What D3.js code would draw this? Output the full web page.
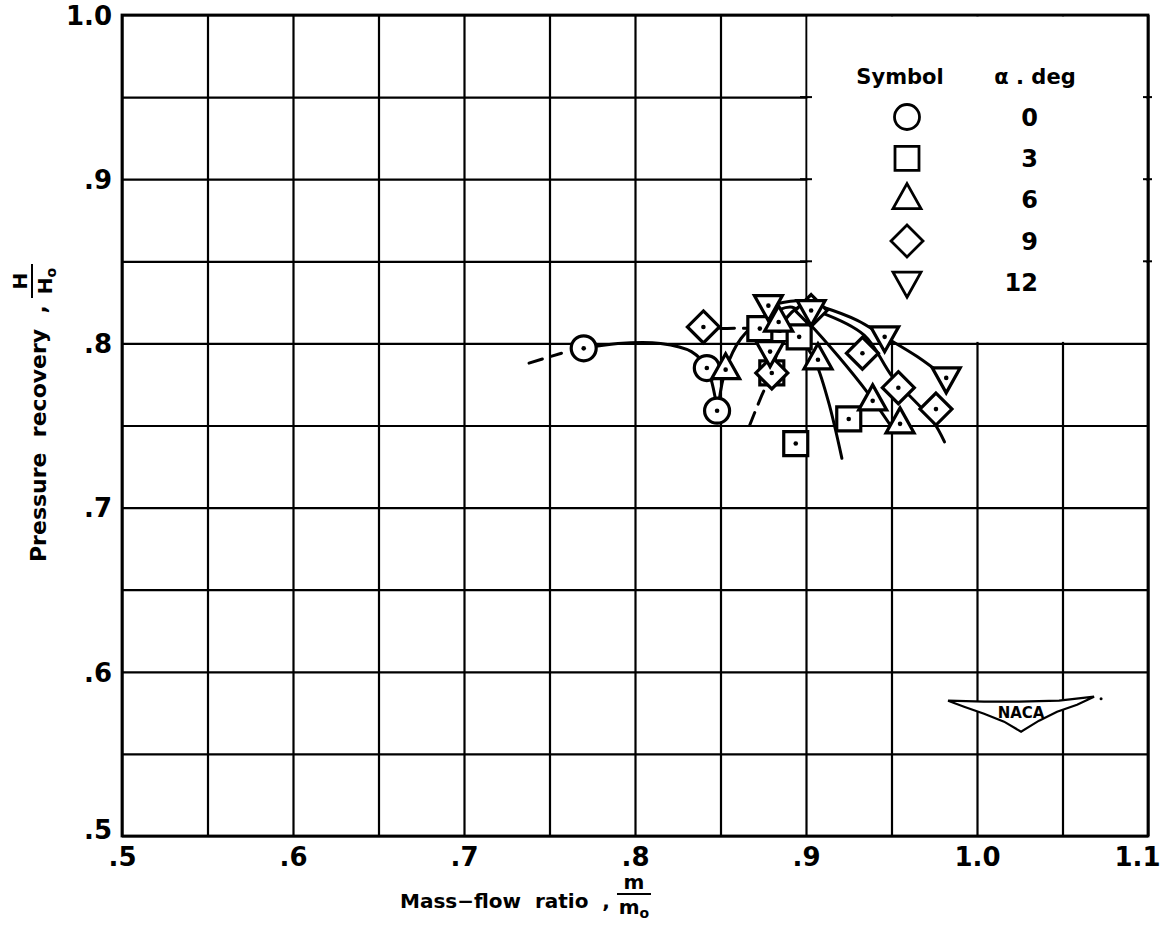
<!DOCTYPE html>
<html>
<head>
<meta charset="utf-8">
<script src="https://cdn.jsdelivr.net/npm/d3@7"></script>
<style>
  body { margin: 0; background: #fff; }
  svg { display: block; }
  text { font-family: "DejaVu Sans", sans-serif; font-weight: bold; fill: #000; }
</style>
</head>
<body>
<svg id="chart" width="1168" height="951"></svg>
<script>
// ---- axis ticks ----
const xTicks = [0.5, 0.6, 0.7, 0.8, 0.9, 1.0, 1.1];
const xTickLabels = [".5", ".6", ".7", ".8", ".9", "1.0", "1.1"];
const yTicks = [0.5, 0.6, 0.7, 0.8, 0.9, 1.0];
const yTickLabels = [".5", ".6", ".7", ".8", ".9", "1.0"];
const xGrid = [0.5, 0.55, 0.6, 0.65, 0.7, 0.75, 0.8, 0.85, 0.9, 0.95, 1.0, 1.05, 1.1];
const yGrid = [0.5, 0.55, 0.6, 0.65, 0.7, 0.75, 0.8, 0.85, 0.9, 0.95, 1.0];

// ---- angle of attack, deg, and test points (mass-flow ratio, pressure recovery) ----
const alphaDeg = [0, 3, 6, 9, 12];
const alpha0Flow = [0.770, 0.842, 0.848];
const alpha0Rec  = [0.797, 0.785, 0.759];
const alpha3Flow = [0.873, 0.896, 0.925, 0.894, 0.880];
const alpha3Rec  = [0.809, 0.804, 0.754, 0.739, 0.782];
const alpha6Flow = [0.853, 0.884, 0.907, 0.939, 0.955];
const alpha6Rec  = [0.784, 0.813, 0.790, 0.765, 0.751];
const alpha9Flow = [0.840, 0.880, 0.903, 0.933, 0.954, 0.976];
const alpha9Rec  = [0.810, 0.782, 0.820, 0.794, 0.773, 0.760];
const alpha12Flow = [0.878, 0.903, 0.946, 0.982, 0.879];
const alpha12Rec  = [0.823, 0.820, 0.804, 0.779, 0.795];

// ---- faired curves [mass-flow ratio, pressure recovery] ----
const fair0 = [[0.770, 0.797], [0.790, 0.800], [0.815, 0.800], [0.833, 0.795], [0.842, 0.785], [0.848, 0.760]];
const fair0Lead = [[0.738, 0.788], [0.757, 0.794]];
const fair3 = [[0.896, 0.804], [0.905, 0.790], [0.913, 0.765], [0.921, 0.730]];
const fair3Lead = [[0.850, 0.809], [0.873, 0.809], [0.896, 0.805]];
const fair6 = [[0.849, 0.764], [0.853, 0.784], [0.862, 0.803], [0.876, 0.816], [0.892, 0.822],
               [0.902, 0.812], [0.919, 0.792], [0.936, 0.770], [0.952, 0.746]];
const fair9 = [[0.886, 0.812], [0.896, 0.822], [0.908, 0.819], [0.934, 0.805], [0.951, 0.779],
               [0.974, 0.753], [0.981, 0.740]];
const fair9Lead = [[0.867, 0.750], [0.874, 0.768], [0.880, 0.782], [0.884, 0.800]];
const fair12 = [[0.875, 0.822], [0.895, 0.826], [0.910, 0.822], [0.930, 0.814], [0.946, 0.804],
                [0.965, 0.792], [0.982, 0.779]];

const series = [
  { alpha: alphaDeg[0], shape: "circle",   flow: alpha0Flow,  rec: alpha0Rec },
  { alpha: alphaDeg[1], shape: "square",   flow: alpha3Flow,  rec: alpha3Rec },
  { alpha: alphaDeg[2], shape: "triUp",    flow: alpha6Flow,  rec: alpha6Rec },
  { alpha: alphaDeg[3], shape: "diamond",  flow: alpha9Flow,  rec: alpha9Rec },
  { alpha: alphaDeg[4], shape: "triDown",  flow: alpha12Flow, rec: alpha12Rec }
];

const svg = d3.select("#chart");
const x = d3.scaleLinear().domain([0.5, 1.1]).range([122, 1148]);
const y = d3.scaleLinear().domain([0.5, 1.0]).range([836, 15]);
const plotH = y(0.5) - y(1.0);
const plotW = x(1.1) - x(0.5);

// ---- grid ----
const gx = svg.append("g").attr("transform", `translate(0,${y(0.5)})`)
  .call(d3.axisBottom(x).tickValues(xGrid).tickSize(-plotH).tickFormat(""));
const gy = svg.append("g").attr("transform", `translate(${x(0.5)},0)`)
  .call(d3.axisLeft(y).tickValues(yGrid).tickSize(-plotW).tickFormat(""));
[gx, gy].forEach(g => {
  g.select(".domain").remove();
  g.selectAll("line").attr("stroke", "#000").attr("stroke-width", 2.2);
});

// legend panel clears the grid in the upper right corner
svg.append("rect")
  .attr("x", x(0.9) + 1.5).attr("y", y(1.0) + 1.5)
  .attr("width", x(1.1) - x(0.9) - 3).attr("height", y(0.8) - y(1.0) - 3)
  .attr("fill", "#fff");
svg.append("g").selectAll("line").data([0.85, 0.9, 0.95]).join("line")
  .attr("x1", x(0.9) - 6).attr("x2", x(0.9) + 6)
  .attr("y1", d => y(d)).attr("y2", d => y(d))
  .attr("stroke", "#000").attr("stroke-width", 2);
svg.append("g").selectAll("line").data([0.85, 0.9, 0.95]).join("line")
  .attr("x1", x(1.1) - 5).attr("x2", x(1.1) + 4)
  .attr("y1", d => y(d)).attr("y2", d => y(d))
  .attr("stroke", "#000").attr("stroke-width", 2);

// frame
svg.append("rect")
  .attr("x", x(0.5)).attr("y", y(1.0)).attr("width", plotW).attr("height", plotH)
  .attr("fill", "none").attr("stroke", "#000").attr("stroke-width", 2.8);

// ---- tick labels ----
const xa = svg.append("g").attr("transform", `translate(0,${y(0.5)})`)
  .call(d3.axisBottom(x).tickValues(xTicks).tickSize(0).tickPadding(10)
    .tickFormat((d, i) => xTickLabels[i]));
xa.select(".domain").remove();
xa.selectAll("text").style("font-size", "26px").attr("dy", "0.75em");
// last label sits flush against the right edge of the frame
xa.selectAll(".tick").filter(d => d === 1.1).select("text")
  .attr("text-anchor", "end").attr("x", 12);

const ya = svg.append("g").attr("transform", `translate(${x(0.5)},0)`)
  .call(d3.axisLeft(y).tickValues(yTicks).tickSize(0).tickPadding(10)
    .tickFormat((d, i) => yTickLabels[i]));
ya.select(".domain").remove();
ya.selectAll("text").style("font-size", "26px").attr("dy", "0.36em");
ya.selectAll(".tick").filter(d => d === 0.5).select("text").attr("dy", "0.1em");

// ---- axis titles: words followed by a stacked fraction ----
function fractionTitle(g, words, sym, size) {
  const t = g.append("text").attr("x", 0).attr("y", 0).style("font-size", size + "px")
    .attr("xml:space", "preserve").text(words);
  const w = t.node().getComputedTextLength();
  const cx = w + 24;
  g.append("text").attr("x", cx).attr("y", -19).attr("text-anchor", "middle")
    .style("font-size", "20px").text(sym);
  g.append("line").attr("x1", cx - 17).attr("x2", cx + 17).attr("y1", -14).attr("y2", -14)
    .attr("stroke", "#000").attr("stroke-width", 2);
  const den = g.append("text").attr("x", cx).attr("y", 6).attr("text-anchor", "middle")
    .style("font-size", "20px");
  den.append("tspan").text(sym);
  den.append("tspan").attr("dy", 4).style("font-size", "14px").text("o");
}
fractionTitle(svg.append("g").attr("transform", "translate(400,908)"), "Mass\u2212flow  ratio  ,", "m", 20);
fractionTitle(svg.append("g").attr("transform", "translate(46,562) rotate(-90)"), "Pressure  recovery  ,", "H", 22);

// ---- symbol outlines ----
function shapePath(kind) {
  const p = d3.path();
  if (kind === "circle") { p.arc(0, 0, 12.5, 0, 2 * Math.PI); p.closePath(); }
  else if (kind === "square") { p.rect(-12, -12, 24, 24); }
  else if (kind === "triUp") { p.moveTo(0, -16); p.lineTo(14, 9); p.lineTo(-14, 9); p.closePath(); }
  else if (kind === "triDown") { p.moveTo(0, 15); p.lineTo(14, -10); p.lineTo(-14, -10); p.closePath(); }
  else if (kind === "diamond") { p.moveTo(0, -16); p.lineTo(16, 0); p.lineTo(0, 16); p.lineTo(-16, 0); p.closePath(); }
  return p.toString();
}

// ---- faired curves ----
const line = d3.line().x(d => x(d[0])).y(d => y(d[1])).curve(d3.curveCatmullRom.alpha(0.5));
const curves = svg.append("g").attr("fill", "none").attr("stroke", "#000").attr("stroke-width", 3)
  .attr("stroke-linecap", "round");
[fair0, fair3, fair6, fair9, fair12].forEach(c => curves.append("path").attr("d", line(c)));
[fair0Lead, fair3Lead, fair9Lead].forEach(c => curves.append("path").attr("d", line(c))
  .attr("stroke-dasharray", "14 9"));

// ---- test points ----
series.forEach(s => {
  const pts = s.flow.map((f, i) => [f, s.rec[i]]);
  const g = svg.append("g").selectAll("g").data(pts).join("g")
    .attr("transform", d => `translate(${x(d[0])},${y(d[1])})`);
  g.append("path").attr("d", shapePath(s.shape))
    .attr("fill", "#fff").attr("stroke", "#000").attr("stroke-width", 3.2)
    .attr("stroke-linejoin", "miter");
  g.append("circle").attr("r", 2.3).attr("fill", "#000");
});

// ---- legend ----
const lg = svg.append("g");
lg.append("text").attr("x", 900).attr("y", 84).attr("text-anchor", "middle")
  .style("font-size", "21px").text("Symbol");
lg.append("text").attr("x", 1035).attr("y", 84).attr("text-anchor", "middle")
  .style("font-size", "21px").attr("xml:space", "preserve").text("\u03b1 . deg");
series.forEach((s, i) => {
  const ry = 117 + i * 41.3;
  lg.append("path").attr("d", shapePath(s.shape))
    .attr("transform", `translate(907,${ry})`)
    .attr("fill", "#fff").attr("stroke", "#000").attr("stroke-width", 2.8);
  lg.append("text").attr("x", 1038).attr("y", ry).attr("dy", "0.36em")
    .attr("text-anchor", "end").style("font-size", "24px").text(String(s.alpha));
});

// ---- NACA wing emblem ----
const logo = svg.append("g").attr("transform", `translate(${x(1.0246)},${y(0.5745)})`);
const wing = [[-71, -13], [-35, -12], [0, -12], [40, -13], [75, -17], [58, -9], [38, -2],
              [20, 7], [2, 18], [-15, 8], [-35, 0], [-55, -7]];
logo.append("path").attr("d", d3.line().curve(d3.curveLinearClosed)(wing))
  .attr("fill", "#fff").attr("stroke", "#000").attr("stroke-width", 2.2);
logo.append("text").attr("x", 2).attr("y", 0).attr("dy", "0.3em").attr("text-anchor", "middle")
  .style("font-size", "15px").text("NACA");
logo.append("circle").attr("cx", 82).attr("cy", -15).attr("r", 1.5).attr("fill", "#000");
</script>
</body>
</html>
